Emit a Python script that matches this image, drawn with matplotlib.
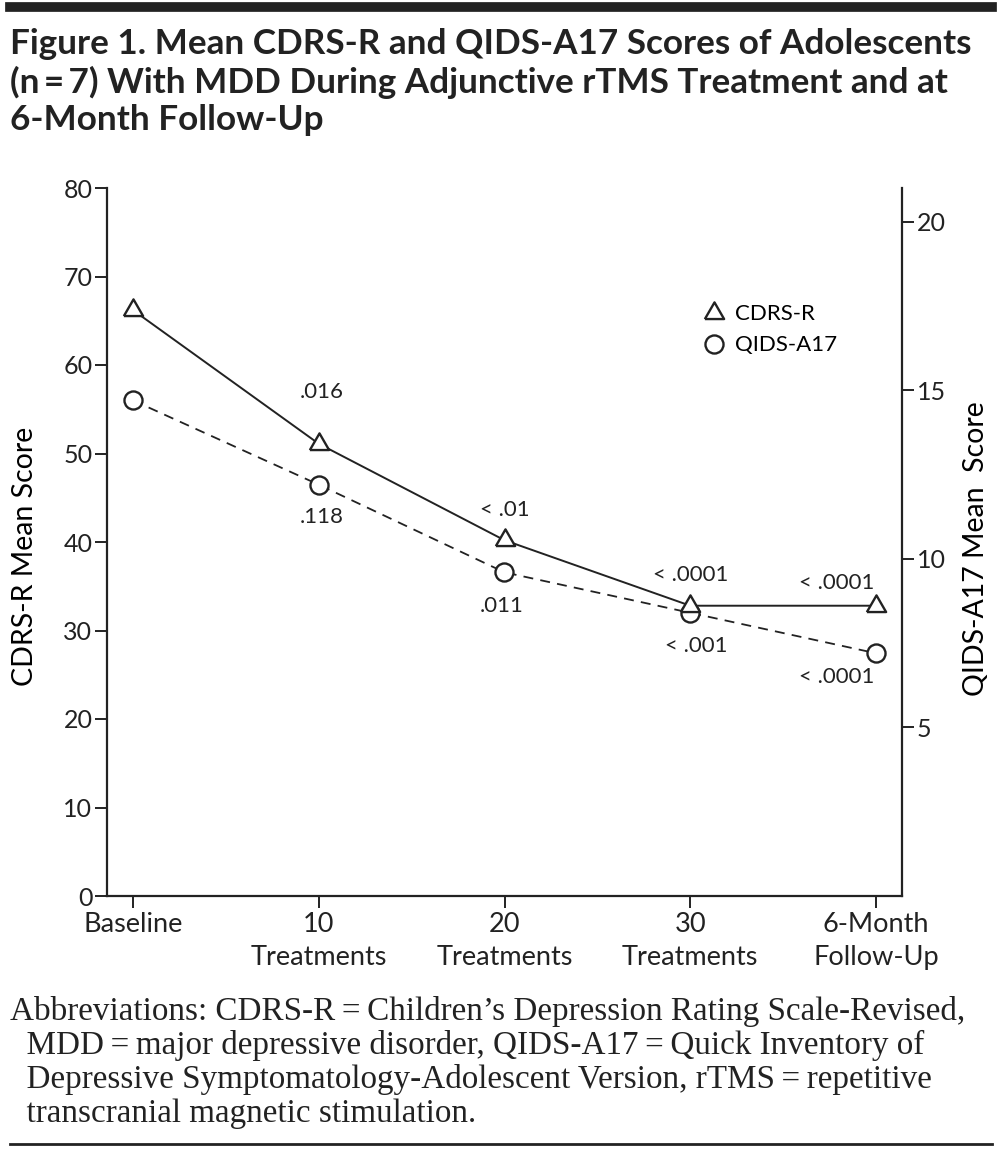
import matplotlib
matplotlib.use("Agg")
import matplotlib.pyplot as plt
from matplotlib.lines import Line2D

# data
timepoints = ["Baseline", "10\nTreatments", "20\nTreatments", "30\nTreatments", "6-Month\nFollow-Up"]
cdrs = [66.2, 51.1, 40.2, 32.8, 32.8]
qids = [14.7, 12.2, 9.6, 8.4, 7.2]
cdrs_p = ["", ".016", "< .01", "< .0001", "< .0001"]
qids_p = ["", ".118", ".011", "< .001", "< .0001"]

left_ticks = [0, 10, 20, 30, 40, 50, 60, 70, 80]
right_ticks = [5, 10, 15, 20]

# label offsets (points) relative to each marker
cdrs_off = [(0, 0), (2, 37), (0, 22), (0, 22), (-28, 16)]
qids_off = [(0, 0), (2, -23), (-2, -24), (4, -24), (-28, -17)]

plt.rcParams['font.family'] = ['Lato', 'DejaVu Sans']
ink = '#222222'

fig = plt.figure(figsize=(10.02, 11.65), dpi=100)
ax = fig.add_axes([107/1002, 1-896/1165, 795/1002, 708/1165])
ax2 = ax.twinx()
ax.set_zorder(ax2.get_zorder() + 1)
ax.patch.set_visible(False)

x = list(range(len(timepoints)))

# equilateral triangle centred on its centroid
tri = [(-1, -0.577), (1, -0.577), (0, 1.155), (-1, -0.577)]

ax2.plot(x, qids, color=ink, linestyle=(0, (5.5, 4)), linewidth=1.3,
         marker='o', markersize=13, markerfacecolor='white',
         markeredgecolor=ink, markeredgewidth=1.7)
ax.plot(x, cdrs, color=ink, linestyle='-', linewidth=1.4,
        marker=tri, markersize=16, markerfacecolor='white',
        markeredgecolor=ink, markeredgewidth=1.7)

ax.set_xlim(-0.14, 4.14)
ax.set_ylim(0, 80)
ax2.set_ylim(0, 21)

ax.set_yticks(left_ticks)
ax2.set_yticks(right_ticks)
ax.set_xticks(x)
ax.set_xticklabels(timepoints, fontsize=19.5, linespacing=1.4)

for a in (ax, ax2):
    a.spines['top'].set_visible(False)
    for s in a.spines.values():
        s.set_linewidth(1.6)
        s.set_color(ink)
    a.tick_params(axis='y', direction='out', length=8.5, width=1.4, labelsize=18,
                  colors=ink, pad=2)
ax.tick_params(axis='x', direction='out', length=8.5, width=1.4, colors=ink, pad=3)
ax.spines['right'].set_visible(False)
ax2.spines['left'].set_visible(False)
ax2.spines['bottom'].set_visible(False)

ax.set_ylabel("CDRS-R Mean Score", fontsize=20.5)
ax.yaxis.set_label_coords(-0.087, 0.48)
ax2.set_ylabel("QIDS-A17 Mean  Score", fontsize=20.5, rotation=90)
ax2.yaxis.set_label_coords(1.077, 0.49)

# p-value labels
for i in range(len(x)):
    if cdrs_p[i]:
        ax.annotate(cdrs_p[i], (x[i], cdrs[i]), xytext=cdrs_off[i], textcoords='offset points',
                    ha='center', va='center', fontsize=16, color=ink)
    if qids_p[i]:
        ax2.annotate(qids_p[i], (x[i], qids[i]), xytext=qids_off[i], textcoords='offset points',
                     ha='center', va='center', fontsize=16, color=ink)

handles = [Line2D([], [], linestyle='none', marker=tri, markersize=16, markerfacecolor='white',
                  markeredgecolor=ink, markeredgewidth=1.7),
           Line2D([], [], linestyle='none', marker='o', markersize=13, markerfacecolor='white',
                  markeredgecolor=ink, markeredgewidth=1.7)]
ax.legend(handles, ["CDRS-R", "QIDS-A17"], loc='upper left', bbox_to_anchor=(0.724, 0.864),
          frameon=False, fontsize=16, handlelength=1.0, handletextpad=0.45, labelspacing=0.5)

# title and rules
fig.add_artist(Line2D([10/1002, 992/1002], [1-7/1165, 1-7/1165], color=ink, linewidth=7))
fig.text(10/1002, 1-28/1165,
         "Figure 1. Mean CDRS-R and QIDS-A17 Scores of Adolescents\n"
         "(n\u2009=\u20097) With MDD During Adjunctive rTMS Treatment and at\n"
         "6-Month Follow-Up",
         ha='left', va='top', fontsize=25.3, fontweight='bold', color=ink, linespacing=1.2)

fig.text(10/1002, 1-996/1165,
         "Abbreviations: CDRS-R\u2009=\u2009Children\u2019s Depression Rating Scale-Revised,\n"
         "  MDD\u2009=\u2009major depressive disorder, QIDS-A17\u2009=\u2009Quick Inventory of\n"
         "  Depressive Symptomatology-Adolescent Version, rTMS\u2009=\u2009repetitive\n"
         "  transcranial magnetic stimulation.",
         ha='left', va='top', fontsize=23.9, family='Liberation Serif', color=ink,
         linespacing=1.13)
fig.add_artist(Line2D([10/1002, 992/1002], [1-1144/1165, 1-1144/1165], color=ink, linewidth=2))

fig.savefig("out.png", dpi=100)
